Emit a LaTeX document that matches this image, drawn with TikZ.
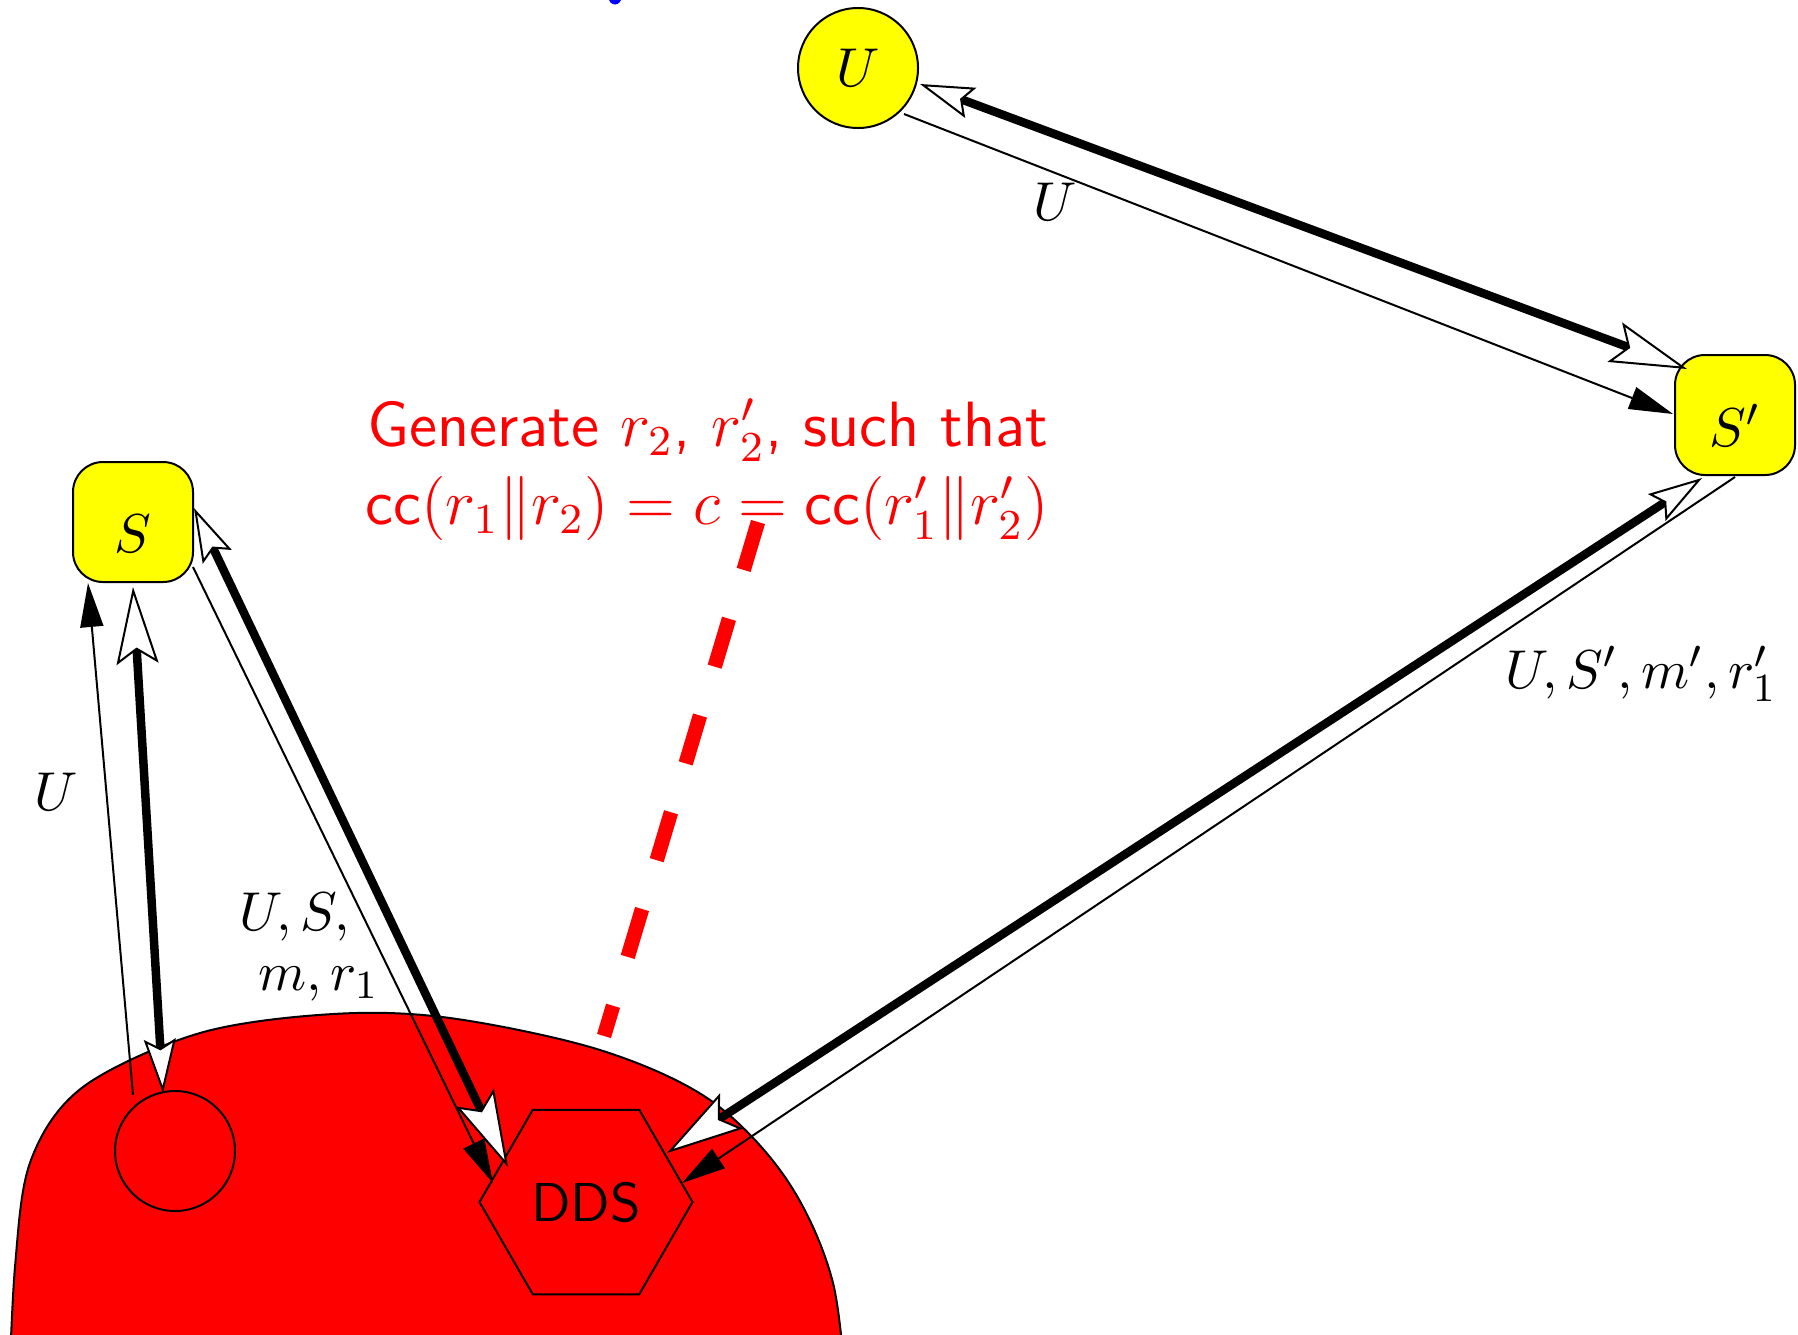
\documentclass[tikz,border=0pt]{standalone}
\usepackage{graphicx}
\usetikzlibrary{arrows.meta,shapes.geometric,calc}
\definecolor{yel}{RGB}{255,255,0}
\definecolor{rd}{RGB}{255,0,0}
\definecolor{bl}{RGB}{0,0,255}
\tikzset{
  lblfont/.style={font=\fontsize{10.95}{13.6}\selectfont},
  lbl/.style={lblfont, inner sep=0pt},
  party/.style={draw, line width=0.4pt, fill=yel, lblfont, inner sep=0pt},
  srv/.style={party, rectangle, rounded corners=6pt, minimum width=24pt, minimum height=24pt},
  usr/.style={party, circle, minimum size=24pt},
  chan/.style={line width=1.7pt,
    {Stealth[length=10.8pt,width=6.4pt,inset=1.8pt,fill=white,line width=0.4pt 0]}-{Stealth[length=15.4pt,width=8.4pt,inset=2.8pt,fill=white,line width=0.4pt 0]}},
  msg/.style={line width=0.4pt, -{Triangle[length=8.8pt,width=4.6pt]}},
  redtext/.style={font=\sffamily\fontsize{12}{14.4}\selectfont, text=rd, inner sep=0pt},
}
\begin{document}
\begin{tikzpicture}[x=0.2pt,y=-0.2pt]
\useasboundingbox (0,0) rectangle (1798,1334);
\clip (0,0) rectangle (1798,1334);
% blue fragment at the top edge
\fill[bl] (615,-3) ellipse [x radius=1.3pt, y radius=1.5pt];
% red region
\draw[fill=rd, line width=0.4pt] plot[smooth, tension=0.55] coordinates {(8,1420) (15,1267) (31,1160) (83,1087) (200,1033) (333,1014) (450,1018) (600,1050) (710,1100) (787,1180) (833,1283) (848,1420)} -- cycle;
% nodes
\node[usr] (U) at (858,68) {$U$};
\node[srv] (Sp) at (1735,415) {\raisebox{-6.3pt}[0pt][0pt]{$S'$}};
\node[srv] (S) at (133,522) {\raisebox{-6pt}[0pt][0pt]{$S$}};
\node[circle, draw, fill=rd, minimum size=24pt, inner sep=0pt, line width=0.4pt] (C) at (175,1151) {};
\node[draw, fill=rd, regular polygon, regular polygon sides=6, minimum size=42.6pt, inner sep=0pt, line width=0.4pt, font=\sffamily\fontsize{10.95}{13.6}\selectfont] (D) at (586,1202) {DDS};
% red text and dashed connector
\node[redtext, anchor=base] (gen1) at (708,446) {\scalebox{1.067}{Generate $r_2$, $r'_2$, such that}};
\node[redtext, anchor=base] (gen2) at (707,524) {\scalebox{1.067}{$\textsf{cc}(r_1\|r_2)=c=\textsf{cc}(r'_1\|r'_2)$}};
\coordinate (dA) at (758,522);
\coordinate (dB) at (604,1036);
\draw[rd, line width=2.9pt, dash pattern=on 10pt off 10.2pt] (dA) -- (dB);
% connectors
\draw[chan] ([shift={(62,16)}]U.center) -- ([shift={(-48,-46)}]Sp.center);
\draw[msg] ([shift={(46,46)}]U.center) -- ([shift={(-62,-1)}]Sp.center);
\draw[chan] ([shift={(-33,63)}]Sp.center) -- ([shift={(81,-49)}]D.center);
\draw[msg] ([shift={(0,62)}]Sp.center) -- ([shift={(96,-19)}]D.center);
\draw[chan] ([shift={(61,-14)}]S.center) -- ([shift={(-78,-35)}]D.center);
\draw[msg] ([shift={(60,45)}]S.center) -- ([shift={(-93,-19)}]D.center);
\draw[chan] ([shift={(-12,-58)}]C.center) -- ([shift={(0,65)}]S.center);
\draw[msg] ([shift={(-42,-56)}]C.center) -- ([shift={(-45,61)}]S.center);
% labels
\node[lbl, anchor=base] (lU1) at (1055,220) {$U$};
\node[lbl, anchor=base] (lU2) at (56,810) {$U$};
\node[lbl, anchor=base west] (lUS1) at (238,930) {$U,S,$};
\node[lbl, anchor=base west] (lUS2) at (257,990) {$m,r_1$};
\node[lbl, anchor=base] (lUSp) at (1641,688) {$U,S',m',r'_1$};
\end{tikzpicture}
\end{document}
